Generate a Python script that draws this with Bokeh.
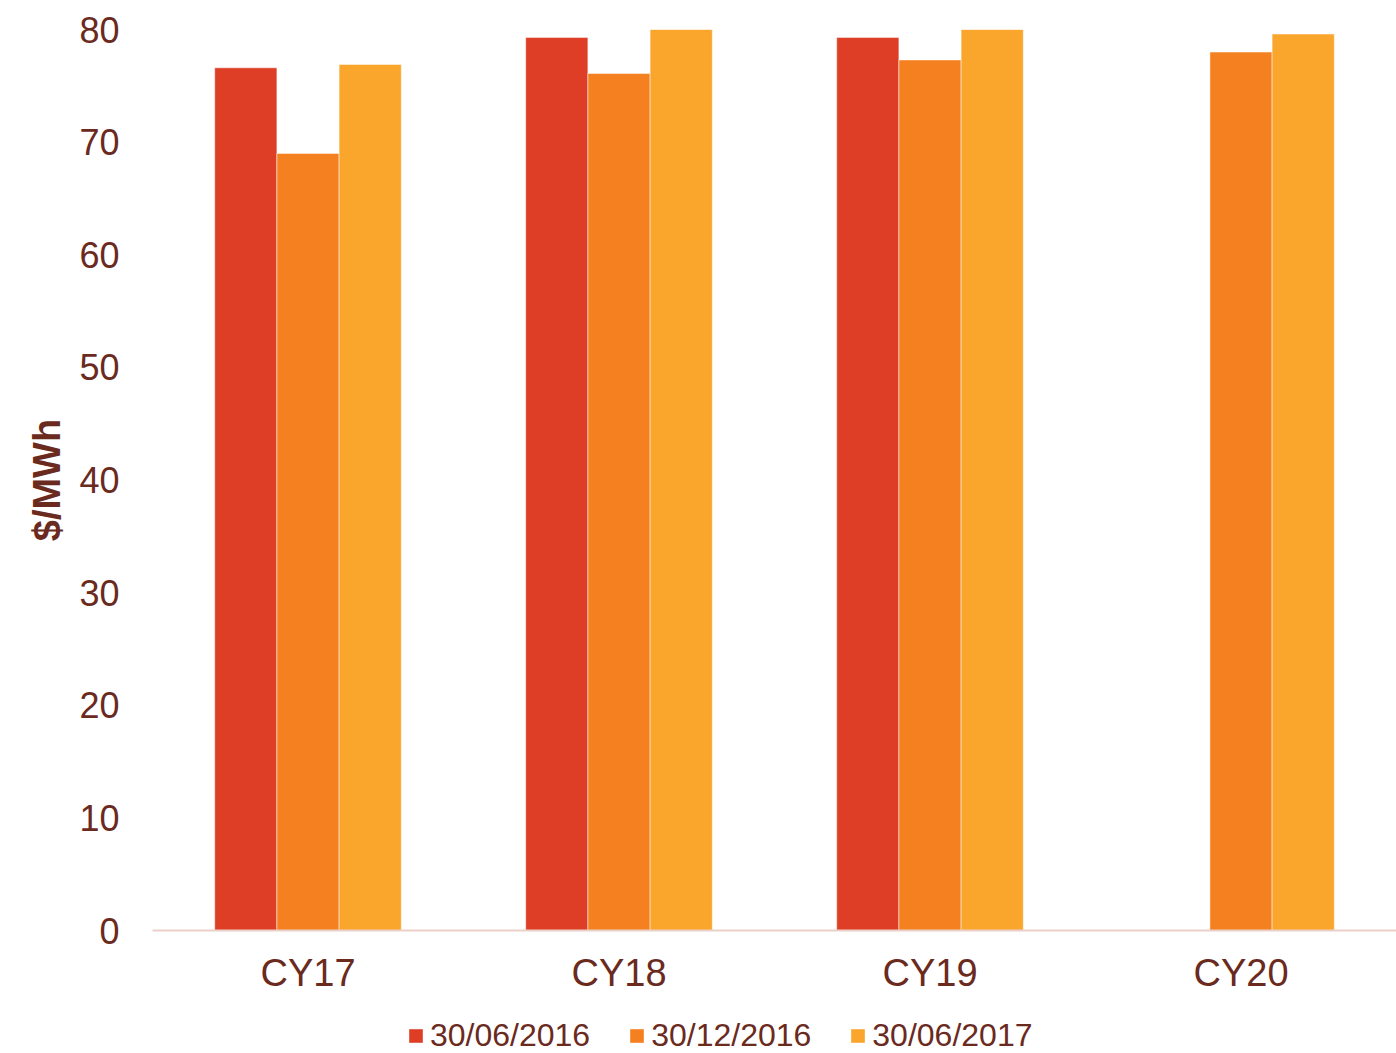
from bokeh.plotting import figure
from bokeh.models import ColumnDataSource, FactorRange, Range1d, Legend, LegendItem, FixedTicker
from bokeh.layouts import column
from bokeh.transform import dodge
from bokeh.embed import file_html
from bokeh.resources import INLINE

categories = ["CY17", "CY18", "CY19", "CY20"]
series_names = ["30/06/2016", "30/12/2016", "30/06/2017"]
values_jun2016 = [76.6, 79.3, 79.3, None]
values_dec2016 = [69.0, 76.1, 77.3, 78.0]
values_jun2017 = [76.9, 80.0, 80.0, 79.6]
colors = ["#DE3E25", "#F5801F", "#FAA52B"]
y_ticks = [0, 10, 20, 30, 40, 50, 60, 70, 80]

TEXT = "#6B2A1E"
FONT = "Liberation Sans"

p = figure(width=1396, height=996, x_range=FactorRange(*categories),
           y_range=Range1d(0, 80), output_backend="svg", toolbar_location=None,
           min_border_left=152, min_border_right=0, min_border_top=29, min_border_bottom=66)
p.outline_line_color = None
p.xgrid.visible = False
p.ygrid.visible = False
p.background_fill_color = "white"
p.border_fill_color = "white"

offsets = [-0.2, 0.0, 0.2]
for name, vals, col, off in zip(series_names, [values_jun2016, values_dec2016, values_jun2017], colors, offsets):
    cats = [c for c, v in zip(categories, vals) if v is not None]
    tops = [v for v in vals if v is not None]
    src = ColumnDataSource(dict(cat=cats, top=tops))
    p.vbar(x=dodge("cat", off, range=p.x_range), top="top", bottom=0, width=0.2,
           source=src, fill_color=col, line_color="white", line_width=1, line_alpha=0.5)

# y axis
p.yaxis.ticker = FixedTicker(ticks=y_ticks)
p.yaxis.axis_line_color = None
p.yaxis.major_tick_line_color = None
p.yaxis.minor_tick_line_color = None
p.yaxis.major_label_standoff = 27
p.yaxis.major_label_text_font = FONT
p.yaxis.major_label_text_font_size = "36px"
p.yaxis.major_label_text_color = TEXT
p.yaxis.axis_label = "$/MWh"
p.yaxis.axis_label_text_font = FONT
p.yaxis.axis_label_text_font_size = "38px"
p.yaxis.axis_label_text_font_style = "bold"
p.yaxis.axis_label_text_color = TEXT
p.yaxis.axis_label_standoff = 8

# x axis
p.xaxis.axis_line_color = "#EBCFC8"
p.xaxis.axis_line_width = 2
p.xaxis.major_tick_line_color = None
p.xaxis.minor_tick_line_color = None
p.xaxis.major_label_standoff = 15
p.xaxis.major_label_text_font = FONT
p.xaxis.major_label_text_font_size = "38px"
p.xaxis.major_label_text_color = TEXT

# legend strip
lg = figure(width=1396, height=57, x_range=Range1d(0, 1), y_range=Range1d(0, 1),
            output_backend="svg", toolbar_location=None, x_axis_type=None, y_axis_type=None,
            min_border_left=152, min_border_right=0, min_border_top=0, min_border_bottom=0)
lg.outline_line_color = None
lg.xgrid.visible = False
lg.ygrid.visible = False
items = []
for name, col in zip(series_names, colors):
    r = lg.vbar(x=[float("nan")], top=[float("nan")], bottom=0, width=0.1,
                fill_color=col, line_color=None)
    items.append(LegendItem(label=name, renderers=[r]))
legend = Legend(items=items, orientation="horizontal", location=(255, -1),
                label_text_font=FONT, label_text_font_size="32px", label_text_color=TEXT,
                glyph_width=17, glyph_height=17, label_standoff=6, spacing=38,
                border_line_color=None, background_fill_alpha=0, padding=0, margin=0)
lg.add_layout(legend, "center")

layout = column(p, lg, spacing=0)
open("out.html", "w").write(file_html(layout, INLINE))
